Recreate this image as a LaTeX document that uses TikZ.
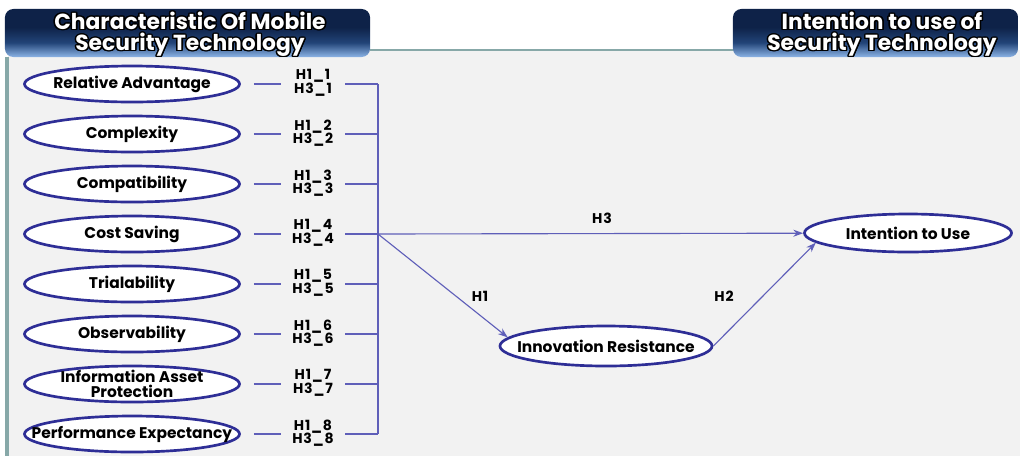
\documentclass[tikz,border=0pt]{standalone}
\usepackage{fontspec}
\setmainfont{Poppins}
\usepackage{contour}
\usetikzlibrary{arrows.meta, shapes.geometric}
\contourlength{1pt}
\definecolor{rim}{RGB}{46,46,150}
\definecolor{wire}{RGB}{95,95,185}
\definecolor{panel}{RGB}{242,242,242}
\definecolor{frame}{RGB}{135,168,168}
\definecolor{navy}{RGB}{14,34,72}
\definecolor{midnavy}{RGB}{34,68,120}
\definecolor{sky}{RGB}{140,180,230}
\pgfdeclareverticalshading{headshade}{100bp}{color(0bp)=(sky); color(25bp)=(sky);
	color(40bp)=(midnavy); color(56bp)=(navy); color(75bp)=(navy); color(100bp)=(navy)}
\newcommand{\headline}[1]{\contour{black}{#1}}
\tikzset{%
	factor/.style={draw=rim, line width=1.9pt, ellipse, fill=white,%
		minimum width=5.375cm, minimum height=0.9cm, inner sep=0pt},
	factortext/.style={inner sep=0pt, align=center, font=\bfseries\fontsize{11}{10.5}\selectfont},
	hyp/.style={inner sep=0pt, minimum width=1.6cm, align=center,%
		font=\bfseries\fontsize{10}{9.6}\selectfont\addfontfeatures{LetterSpace=6}},
	tag/.style={inner sep=0pt, font=\bfseries\fontsize{10}{10}\selectfont\addfontfeatures{LetterSpace=6}},
	link/.style={draw=wire, line width=0.8pt},
	effect/.style={draw=wire, line width=0.8pt, -{Stealth[length=7pt, width=5pt]}},
	header/.style={rounded corners=6pt, shading=headshade, minimum height=1.2cm, inner sep=0pt},
	headtext/.style={inner sep=0pt, align=center, text=white,%
		font=\bfseries\fontsize{15.5}{15}\selectfont}
}
\begin{document}
\begin{tikzpicture}[x=0.025cm, y=-0.025cm]
	\useasboundingbox (0,0) rectangle (1020,456);
	% panel and frame
	\fill[panel] (8,50) rectangle (1020,456);
	\draw[frame, line width=2.2pt] (7,57) -- (7,456);
	\draw[frame, line width=1.4pt] (370,50) -- (735,50);
	
	\node[header, minimum width=9.125cm] (lhead) at (187.5,33) {};
	\node[headtext] (lhtext) at (190,35)
		{\headline{Characteristic Of Mobile}\\\headline{Security Technology}};
	\node[header, minimum width=7.125cm] (rhead) at (875.5,33) {};
	\node[headtext] (rhtext) at (882,35)
		{\headline{Intention to use of}\\\headline{Security Technology}};
	
	% factors with their hypotheses
	\foreach \i/\name in {1/Relative Advantage, 2/Complexity, 3/Compatibility,
		4/Cost Saving, 5/Trialability, 6/Observability,
		7/{Information Asset\\Protection}, 8/Performance Expectancy}{
		\node[factor] (f\i) at (132,34+50*\i) {};
		\node[factortext] (t\i) at (f\i) {\name};
		\node[hyp] (h\i) at (313,33+50*\i) {H1\_\i\\H3\_\i};
		\coordinate (b\i) at (378,34+50*\i);
		\draw[link, shorten <=0.325cm] (f\i) -- (h\i.west |- f\i);
		\draw[link] (h\i.east |- b\i) -- (b\i);
	}
	\draw[link] (b1) -- (b8);
	
	\node[factor, minimum width=5.3cm, minimum height=1cm] (res) at (606,346) {};
	\node[factortext] (tres) at (res) {Innovation Resistance};
	\node[factor, minimum width=5.175cm, minimum height=0.95cm] (use) at (908,233) {};
	\node[factortext] (tuse) at (use) {Intention to Use};
	
	\draw[effect] (b4) -- (use);
	\draw[effect] (b4) -- (res.175);
	\draw[effect] (res.east) -- (use.186);
	
	\node[tag] (lh3) at (602,218) {H3};
	\node[tag] (lh1) at (480,296) {H1};
	\node[tag] (lh2) at (724,296) {H2};
\end{tikzpicture}
\end{document}
